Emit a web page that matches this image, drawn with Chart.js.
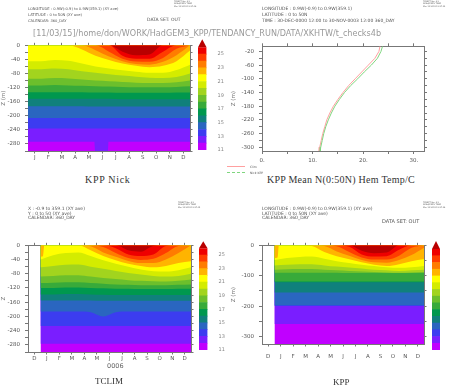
<!DOCTYPE html>
<html>
<head>
<meta charset="utf-8">
<script src="https://cdn.jsdelivr.net/npm/chart.js"></script>
<style>
  body { margin: 0; background: #fff; }
  #page { position: relative; width: 449px; height: 386px; overflow: hidden; font-family: 'DejaVu Sans', sans-serif; }
  canvas { position: absolute; }
  .hd { position: absolute; white-space: nowrap; color: #555; filter: grayscale(1); }
  .ttl { position: absolute; white-space: nowrap; font-family: 'Liberation Serif', serif; font-size: 10px; color: #333; line-height: 12px; }
  .lg { position: absolute; height: 0; }
</style>
</head>
<body>
<div id="page">
  <!-- top left header -->
  <div class="hd" style="left:28px;top:6px;font-size:3.7px;line-height:6px">LONGITUDE : 0.9W(-0.9) to 0.9W(359.1) (XY ave)<br>LATITUDE : 0 to 50N (XY ave)<br>CALENDAR: 360_DAY</div>
  <div class="hd" style="left:147px;top:17px;font-size:4.5px">DATA SET: OUT</div>
  <div class="hd" style="left:174px;top:0px;font-size:2px;line-height:2.4px">FERRET Ver. 6.1<br>NOAA/PMEL TMAP<br>Mar 11 2015 11:37:08</div>
  <div class="hd" style="left:33px;top:27px;font-size:9.5px;color:#999;transform:scaleX(0.85);transform-origin:0 0">[11/03/15]/home/don/WORK/HadGEM3_KPP/TENDANCY_RUN/DATA/XKHTW/t_checks4b</div>

  <!-- top right header -->
  <div class="hd" style="left:262px;top:6px;font-size:4.5px;line-height:6px">LONGITUDE : 0.9W(-0.9) to 0.9W(359.1)<br>LATITUDE : 0 to 50N<br>TIME : 30-DEC-0000 12:00 to 30-NOV-0003 12:00 360_DAY</div>
  <div class="hd" style="left:423px;top:0px;font-size:2px;line-height:2.4px">FERRET Ver. 6.1<br>NOAA/PMEL TMAP<br>Mar 11 2015 11:37:12</div>

  <!-- bottom left header -->
  <div class="hd" style="left:28px;top:207px;font-size:4.5px;line-height:4.5px">X : -0.9 to 359.1 (XY ave)<br>Y : 0 to 50 (XY ave)<br>CALENDAR: 360_DAY</div>
  <div class="hd" style="left:178px;top:201px;font-size:2px;line-height:2.4px">FERRET Ver. 6.1<br>NOAA/PMEL TMAP<br>Mar 11 2015 11:37:05</div>

  <!-- bottom right header -->
  <div class="hd" style="left:262px;top:207px;font-size:4.5px;line-height:4.5px">LONGITUDE : 0.9W(-0.9) to 0.9W(359.1) (XY ave)<br>LATITUDE : 0 to 50N (XY ave)<br>CALENDAR: 360_DAY</div>
  <div class="hd" style="left:382px;top:218px;font-size:5px">DATA SET: OUT</div>
  <div class="hd" style="left:423px;top:201px;font-size:2px;line-height:2.4px">FERRET Ver. 6.1<br>NOAA/PMEL TMAP<br>Mar 11 2015 11:37:14</div>

  <canvas id="nick" width="194" height="134" style="left:0px;top:37px"></canvas>
  <canvas id="nickBar" width="26" height="120" style="left:198px;top:36px"></canvas>
  <canvas id="profile" width="198" height="127" style="left:230px;top:38px"></canvas>
  <canvas id="tclim" width="195" height="135" style="left:0px;top:237px"></canvas>
  <canvas id="tclimBar" width="26" height="120" style="left:199px;top:236px"></canvas>
  <canvas id="kpp" width="198" height="127" style="left:230px;top:237px"></canvas>
  <canvas id="kppBar" width="20" height="120" style="left:432px;top:236px"></canvas>

  <!-- profile legend -->
  <div class="lg" style="left:227px;top:166px;width:18px;border-top:1px solid #ffa0a0"></div>
  <div class="hd" style="left:250px;top:164.5px;font-size:3px">Clim</div>
  <div class="lg" style="left:227px;top:172px;width:18px;border-top:1px dashed #7fd67f"></div>
  <div class="hd" style="left:250px;top:170.5px;font-size:3px">Nick KPP</div>

  <div class="ttl" style="left:85px;top:174px;letter-spacing:0.7px">KPP Nick</div>
  <div class="ttl" style="left:267px;top:174px;letter-spacing:0.25px">KPP Mean N(0:50N) Hem Temp/C</div>
  <div class="hd" style="left:107px;top:362px;font-size:6.5px;color:#666">0006</div>
  <div class="ttl" style="left:95px;top:375px;font-size:9px">TCLIM</div>
  <div class="ttl" style="left:333px;top:376px;font-size:9px">KPP</div>
</div>
<script>
// month boundaries (x positions of the isotherm points); mid-month sits on whole numbers
const monthEdges = [-0.5, 0.5, 1.5, 2.5, 3.5, 4.5, 5.5, 6.5, 7.5, 8.5, 9.5, 10.5, 11.5];
const monthsNick = ['J', 'F', 'M', 'A', 'M', 'J', 'J', 'A', 'S', 'O', 'N', 'D'];
const monthsClim = ['D', 'J', 'F', 'M', 'A', 'M', 'J', 'J', 'A', 'S', 'O', 'N', 'D'];

// temperature levels (deg C) of the isotherms, warmest first
const isoLevels = [26, 25, 24, 23, 22, 21, 20, 19, 18, 17, 16, 15, 14, 13, 12];
const colorbarLabels = [11, 12, 13, 14, 15, 16, 17, 18, 19, 20, 21, 22, 23, 24, 25, 26];
// shade of each band: [11,12] ... [25,26], then above 26
const bandColors = ['#c000ff', '#7a1eff', '#3c3cf0', '#2a66c0', '#10807c', '#00984e', '#38aa3a', '#6cbf2c',
  '#a2d41e', '#d4ec00', '#ffff00', '#ffb400', '#ff7c00', '#ff3c00', '#ee0000', '#b80000'];

// KPP Nick: depth (m) of each isotherm at the month boundaries
const nickIso = [
  [0, 0, 0, 0, 0, 0, 0, -18, -28, -26, 0, 0, 0],
  [0, 0, 0, 0, 0, 0, 0, -30, -38, -38, -18, 0, 0],
  [0, 0, 0, 0, 0, 0, -18, -38, -46, -47, -36, -10, 0],
  [0, 0, 0, 0, 0, -14, -32, -45, -53, -55, -47, -28, 0],
  [0, 0, 0, 0, -12, -30, -42, -52, -58, -62, -58, -45, -15],
  [-45, -45, -42, -44, -52, -60, -66, -71, -75, -78, -78, -70, -55],
  [-68, -68, -66, -68, -74, -78, -82, -86, -89, -92, -93, -90, -80],
  [-95, -95, -93, -94, -97, -100, -102, -104, -106, -107, -107, -105, -100],
  [-114, -114, -113, -114, -115, -116, -117, -118, -119, -119, -119, -118, -116],
  [-133, -133, -133, -133, -133, -134, -134, -135, -135, -135, -135, -134, -134],
  [-152, -152, -152, -152, -152, -152, -152, -153, -153, -153, -153, -153, -153],
  [-173, -173, -173, -173, -173, -174, -174, -174, -174, -174, -174, -174, -174],
  [-206, -206, -206, -206, -206, -206, -206, -206, -206, -206, -206, -206, -206],
  [-236, -236, -236, -236, -236, -236, -236, -236, -236, -236, -236, -236, -236]
];
// the 12 deg isotherm of KPP Nick drops out of the plot in June
const nick12X = [-0.5, 0.5, 1.5, 2.5, 3.5, 4.42, 4.48, 5.4, 5.46, 6.5, 7.5, 8.5, 9.5, 10.5, 11.5];
const nick12Depth = [-274, -274, -274, -274, -274, -274, -312, -312, -274, -274, -274, -274, -274, -274, -274];

// TCLIM
const tclimIso = [
  [0, 0, 0, 0, 0, 0, 0, -14, -18, -2, 0, 0, 0],
  [0, 0, 0, 0, 0, 0, -8, -26, -30, -26, -2, 0, 0],
  [0, 0, 0, 0, 0, -5, -22, -36, -41, -38, -22, -2, 0],
  [0, 0, 0, 0, -3, -20, -32, -44, -50, -50, -40, -22, 0],
  [],
  [-40, -28, -22, -20, -30, -42, -52, -60, -68, -73, -74, -70, -62],
  [-62, -58, -55, -54, -60, -66, -72, -78, -82, -86, -88, -86, -80],
  [-88, -86, -84, -84, -88, -92, -95, -98, -100, -101, -102, -100, -96],
  [-106, -105, -104, -104, -106, -108, -110, -111, -112, -112, -112, -111, -110],
  [-120, -120, -119, -119, -120, -121, -122, -122, -123, -123, -123, -122, -122],
  [-138, -138, -137, -137, -138, -139, -140, -140, -140, -140, -140, -140, -140],
  [-155, -155, -155, -155, -155, -156, -156, -156, -156, -156, -156, -156, -156],
  [-186, -186, -186, -186, -188, -200, -188, -186, -186, -186, -186, -186, -186],
  [-227, -227, -227, -227, -227, -227, -227, -227, -227, -227, -227, -227, -227],
  [-277, -277, -277, -277, -277, -277, -277, -277, -277, -277, -277, -277, -277]
];
// 22 deg isotherm of TCLIM: thin warm strip on the first days of January
const tclim22X = [-0.5, -0.3, -0.2, 0.5, 1.5, 2.5, 3.5, 4.5, 5.5, 6.5, 7.5, 8.5, 9.5, 10.5, 11.5];
const tclim22Depth = [-32, -30, 0, 0, 0, 0, -14, -30, -42, -52, -58, -62, -58, -50, -45];

// KPP
const kppIso = [
  [0, 0, 0, 0, 0, 0, 0, -18, -26, -24, 0, 0, 0],
  [0, 0, 0, 0, 0, 0, -5, -30, -37, -36, -15, 0, 0],
  [0, 0, 0, 0, 0, -3, -22, -40, -47, -47, -34, -8, 0],
  [0, 0, 0, 0, -2, -20, -34, -48, -56, -57, -48, -32, -8],
  [],
  [-48, -42, -38, -37, -44, -52, -58, -64, -68, -72, -74, -72, -68],
  [-66, -64, -62, -62, -66, -70, -73, -76, -80, -82, -84, -82, -80],
  [-80, -79, -78, -78, -80, -82, -84, -86, -88, -89, -90, -89, -88],
  [-90, -90, -90, -90, -90, -90, -91, -91, -91, -91, -91, -91, -91],
  [-119, -119, -119, -119, -119, -119, -119, -119, -119, -119, -119, -119, -119],
  [-121, -121, -121, -121, -121, -121, -121, -121, -121, -121, -121, -121, -121],
  [-155, -155, -155, -155, -155, -155, -155, -155, -155, -155, -155, -155, -155],
  [-197, -197, -197, -197, -197, -197, -197, -197, -197, -197, -197, -197, -197],
  [-199, -199, -199, -199, -199, -199, -199, -199, -199, -199, -199, -199, -199],
  [-258, -258, -258, -258, -258, -258, -258, -258, -258, -258, -258, -258, -258]
];
// 22 deg isotherm of KPP, with the same early-January strip
const kpp22X = [-0.5, -0.25, -0.15, 0.5, 1.5, 2.5, 3.5, 4.5, 5.5, 6.5, 7.5, 8.5, 9.5, 10.5, 11.5];
const kpp22Depth = [-42, -40, 0, 0, 0, -2, -22, -36, -46, -56, -64, -68, -62, -52, -45];

// mean profile panel
const profileDepth = [-5, -20, -40, -60, -80, -100, -120, -140, -160, -180, -200, -220, -240, -260, -280, -300, -311];
const climTemp = [23.3, 23.1, 22.3, 21.0, 19.7, 18.4, 17.1, 16.0, 15.0, 14.1, 13.4, 12.8, 12.4, 12.0, 11.7, 11.4, 11.3];
const nickTemp = [23.8, 23.5, 22.8, 21.6, 20.2, 18.9, 17.5, 16.3, 15.3, 14.4, 13.7, 13.1, 12.6, 12.2, 11.9, 11.6, 11.5];

const tickFont = { family: 'DejaVu Sans', size: 5.5 };
const frameColor = '#777';

function steps(a, b, step) {
  const out = [];
  for (let v = a; v >= b - 1e-9; v -= step) out.push(v);
  return out;
}

// one side of the Ferret style frame: ticks out, no grid inside
function frameAxis(position, min, max, tickValues, labelFn, size, pad, tickLen) {
  const vertical = position === 'left' || position === 'right';
  return {
    type: 'linear', position: position, min: min, max: max,
    afterBuildTicks: function (scale) { scale.ticks = tickValues.map(v => ({ value: v })); },
    afterFit: function (scale) { if (vertical) scale.width = size; else scale.height = size; },
    ticks: {
      callback: labelFn || (() => ''), font: tickFont, color: '#555',
      padding: pad === undefined ? 3 : pad, maxRotation: 0, autoSkip: false
    },
    grid: { drawOnChartArea: false, tickLength: tickLen || 3, color: frameColor },
    border: { color: frameColor }
  };
}

function contourChart(id, iso, months, xMin, yMin, yTicks, yLabel, yTitle, yWidth, xPad, specials) {
  specials = specials || [];
  const datasets = isoLevels.map(function (lev, i) {
    let xs = monthEdges, ys = iso[i], smooth = 'monotone';
    specials.forEach(function (s) {
      if (s.level === lev) { xs = s.x; ys = s.y; smooth = s.smooth || 'monotone'; }
    });
    return {
      data: xs.map((x, j) => ({ x: x, y: ys[j] })),
      backgroundColor: bandColors[lev - 11],
      borderColor: 'rgba(0,0,0,0)', borderWidth: 0, pointRadius: 0,
      fill: 'end', cubicInterpolationMode: smooth, tension: 0
    };
  });
  // water colder than 12 deg fills the rest of the column
  datasets.push({
    data: [{ x: monthEdges[0], y: yMin }, { x: monthEdges[monthEdges.length - 1], y: yMin }],
    backgroundColor: bandColors[0], borderColor: 'rgba(0,0,0,0)', borderWidth: 0, pointRadius: 0, fill: 'end'
  });
  const monthTicks = months.map((m, i) => xMin + 0.5 + i);
  const yAxis = frameAxis('left', yMin, 0, yTicks, yLabel, yWidth, 5);
  yAxis.title = { display: true, text: yTitle, font: { family: 'DejaVu Sans', size: 5.5 }, color: '#777', padding: 0 };
  return new Chart(document.getElementById(id), {
    type: 'line',
    data: { datasets: datasets },
    options: {
      responsive: false, animation: false, parsing: false,
      layout: { padding: 0 },
      plugins: { legend: { display: false }, tooltip: { enabled: false } },
      scales: {
        x: frameAxis('bottom', xMin, 11.5, monthTicks, (v, i) => months[i], 20, xPad, 2.5),
        x2: frameAxis('top', xMin, 11.5, monthTicks, null, 4, 0, 2.5),
        y: yAxis,
        y2: frameAxis('right', yMin, 0, yTicks, null, 4, 0, 2.5)
      }
    }
  });
}

// little arrow on top of each colour key: values above 26
const extendArrow = {
  id: 'extendArrow',
  afterDatasetsDraw: function (chart, args, opts) {
    const a = chart.chartArea, top = chart.scales.y.getPixelForValue(26);
    const ctx = chart.ctx;
    ctx.save();
    ctx.fillStyle = bandColors[bandColors.length - 1];
    ctx.beginPath();
    ctx.moveTo(a.left, top);
    ctx.lineTo(a.right, top);
    ctx.lineTo((a.left + a.right) / 2, top - opts.height);
    ctx.closePath();
    ctx.fill();
    ctx.restore();
  }
};

function colorKey(id, padTop, padBottom, labelWidth, arrowH) {
  const boxes = colorbarLabels.slice(0, -1);
  return new Chart(document.getElementById(id), {
    type: 'bar',
    data: {
      labels: [''],
      datasets: boxes.map((v, i) => ({
        data: [[v, v + 1]], backgroundColor: bandColors[i],
        barPercentage: 1, categoryPercentage: 1, grouped: false
      }))
    },
    options: {
      responsive: false, animation: false,
      layout: { padding: { top: padTop, bottom: padBottom, left: 0, right: 0 } },
      plugins: { legend: { display: false }, tooltip: { enabled: false }, extendArrow: { height: arrowH } },
      scales: {
        x: { display: false },
        y: {
          position: 'right', min: 11, max: 26,
          afterBuildTicks: function (scale) { scale.ticks = colorbarLabels.map(v => ({ value: v })); },
          afterFit: function (scale) { scale.width = labelWidth; },
          ticks: { font: { family: 'DejaVu Sans', size: 5 }, color: '#888', padding: 3 },
          grid: { display: false }, border: { display: false }
        }
      }
    },
    plugins: [extendArrow]
  });
}

contourChart('nick', nickIso, monthsNick, -0.5, -300, steps(0, -300, 20),
  v => (v % 40 === 0 && v > -300 ? String(v) : ''), 'Z (m)', 28, 1,
  [{ level: 12, x: nick12X, y: nick12Depth, smooth: 'default' }]);
colorKey('nickBar', 11.3, 5, 17.5, 8);

contourChart('tclim', tclimIso, monthsClim, -1.5, -300, steps(0, -300, 20),
  v => (v % 40 === 0 && v > -300 ? String(v) : ''), 'Z', 28, 1,
  [{ level: 22, x: tclim22X, y: tclim22Depth }]);
colorKey('tclimBar', 12.3, 6, 17.5, 7);

contourChart('kpp', kppIso, monthsClim, -1.5, -324, steps(0, -300, 50),
  v => (v % 100 === 0 ? String(v) : ''), 'Z (m)', 32, 7,
  [{ level: 22, x: kpp22X, y: kpp22Depth }]);
colorKey('kppBar', 13, 6, 12, 8);

// mean temperature profile
new Chart(document.getElementById('profile'), {
  type: 'scatter',
  data: {
    datasets: [
      { label: 'Nick KPP', data: profileDepth.map((d, i) => ({ x: nickTemp[i], y: d })), showLine: true,
        borderColor: '#7fd67f', borderWidth: 1, pointRadius: 0 },
      { label: 'Clim', data: profileDepth.map((d, i) => ({ x: climTemp[i], y: d })), showLine: true,
        borderColor: '#ffa0a0', borderWidth: 1, pointRadius: 0 }
    ]
  },
  options: {
    responsive: false, animation: false,
    layout: { padding: 0 },
    plugins: { legend: { display: false }, tooltip: { enabled: false } },
    scales: {
      x: frameAxis('bottom', 0, 32, [0, 5, 10, 15, 20, 25, 30], v => (v % 10 === 0 ? v + '.' : ''), 14, 3, 3),
      x2: frameAxis('top', 0, 32, [0, 5, 10, 15, 20, 25, 30], null, 4, 0, 3),
      y: Object.assign(frameAxis('left', -311, -5, steps(-20, -300, 20), v => ((v + 20) % 40 === 0 ? String(v) : ''), 32, 5, 3),
        { title: { display: true, text: 'Z (m)', font: { family: 'DejaVu Sans', size: 5.5 }, color: '#777', padding: 0 } }),
      y2: frameAxis('right', -311, -5, steps(-20, -300, 20), null, 4, 0, 3)
    }
  }
});
</script>
</body>
</html>
